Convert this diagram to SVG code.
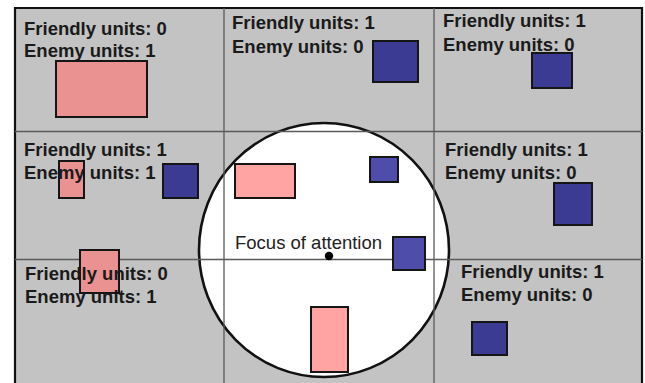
<svg xmlns="http://www.w3.org/2000/svg" width="645" height="383" viewBox="0 0 645 383">
<style>
.lbl{font-family:"Liberation Sans",Arial,sans-serif;font-weight:bold;font-size:18.5px;fill:#1a1a1a}
.grid{stroke:#5a5a5a;stroke-width:1.3;fill:none}
.u{stroke:#151515;stroke-width:2}
.pg{fill:#ea9291}
.pw{fill:#ffa3a3}
.bg{fill:#3b3b93}
.bw{fill:#4e4eaa}
</style>
<rect x="0" y="0" width="645" height="383" fill="#ffffff"/>
<g id="board">
<rect x="15" y="8" width="627" height="380" fill="#c3c3c3"/>
<path d="M15,390 V8 H642 V390" fill="none" stroke="#111" stroke-width="2.2"/>
</g>
<g id="attention">
<ellipse cx="324" cy="250" rx="125" ry="127" fill="#ffffff" stroke="#111" stroke-width="2.6"/>
</g>
<g id="grid">
<line class="grid" x1="224" y1="8" x2="224" y2="383"/>
<line class="grid" x1="434" y1="8" x2="434" y2="383"/>
<line class="grid" x1="15" y1="131.5" x2="642" y2="131.5"/>
<line class="grid" x1="15" y1="259.5" x2="642" y2="259.5"/>
</g>
<g id="units">
<rect class="u pg" x="56" y="61" width="91" height="56"/>
<rect class="u bg" x="373" y="41" width="45" height="41"/>
<rect class="u bg" x="532" y="53" width="40" height="35"/>
<rect class="u pg" x="59" y="161" width="25" height="37"/>
<rect class="u bg" x="163" y="164" width="35" height="34"/>
<rect class="u pw" x="235" y="164" width="60" height="34"/>
<rect class="u bw" x="370" y="157" width="28" height="25"/>
<rect class="u bw" x="393" y="237" width="32" height="33"/>
<rect class="u pw" x="311" y="307" width="37" height="65"/>
<rect class="u bg" x="554" y="183" width="38" height="42"/>
<rect class="u pg" x="80" y="250" width="39" height="43"/>
<rect class="u bg" x="472" y="322" width="35" height="33"/>
</g>
<g id="cell-0-0"><text class="lbl" x="24" y="35">Friendly units: 0</text><text class="lbl" x="24" y="57">Enemy units: 1</text></g>
<g id="cell-1-0"><text class="lbl" x="232" y="29">Friendly units: 1</text><text class="lbl" x="232" y="52.5">Enemy units: 0</text></g>
<g id="cell-2-0"><text class="lbl" x="443" y="27">Friendly units: 1</text><text class="lbl" x="443" y="50.5">Enemy units: 0</text></g>
<g id="cell-0-1"><text class="lbl" x="24" y="156">Friendly units: 1</text><text class="lbl" x="24" y="179">Enemy units: 1</text></g>
<g id="cell-2-1"><text class="lbl" x="445" y="156">Friendly units: 1</text><text class="lbl" x="445" y="179">Enemy units: 0</text></g>
<g id="cell-0-2"><text class="lbl" x="25" y="280">Friendly units: 0</text><text class="lbl" x="25" y="303">Enemy units: 1</text></g>
<g id="cell-2-2"><text class="lbl" x="461" y="277.5">Friendly units: 1</text><text class="lbl" x="461" y="300.5">Enemy units: 0</text></g>
<g id="focus">
<circle cx="329" cy="256" r="4.2" fill="#000"/>
<text x="235" y="249" font-family="'Liberation Sans',Arial,sans-serif" font-size="18.5" fill="#222">Focus of attention</text>
</g>
</svg>
